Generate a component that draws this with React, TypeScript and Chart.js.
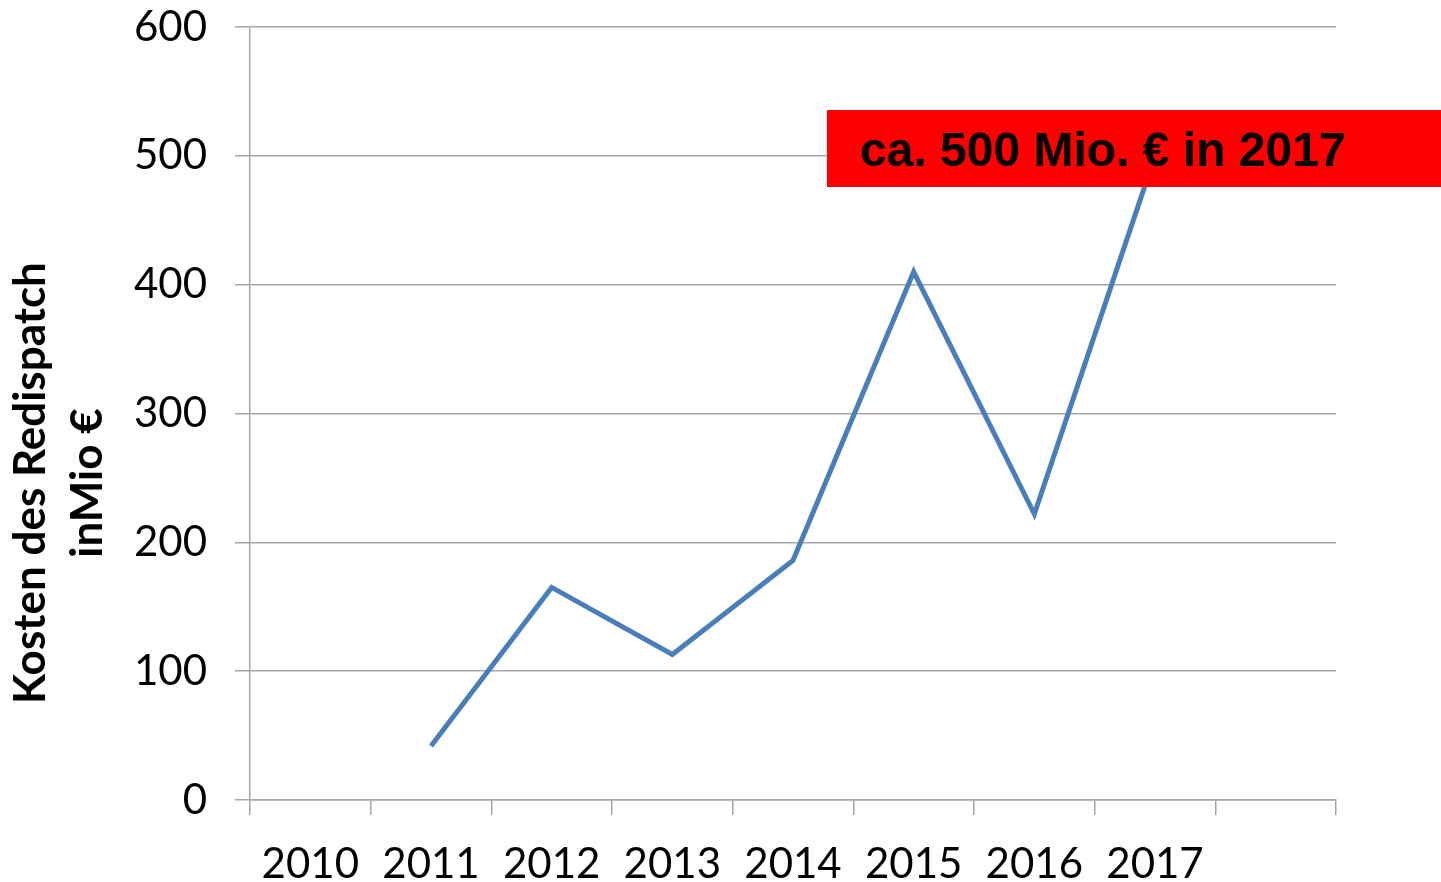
import React, { useEffect, useRef } from "react";
import { Chart, registerables } from "chart.js";

Chart.register(...registerables);

const years = ["2010", "2011", "2012", "2013", "2014", "2015", "2016", "2017", ""];
const costs = [null, 42, 165, 113, 186, 410, 222, 500, null];
const yTitle = ["Kosten des Redispatch", "inMio €"];
const note = "ca. 500 Mio. € in 2017";

const FONT = "Lato, 'Open Sans', sans-serif";
const GRID = "#a6a6a6";

const overlay = {
  id: "overlay",
  afterDraw(chart: any) {
    const ctx = chart.ctx;
    ctx.save();
    // axis title
    ctx.fillStyle = "#000";
    ctx.font = `bold 44px ${FONT}`;
    ctx.textAlign = "center";
    ctx.textBaseline = "middle";
    const cy = 483;
    ctx.translate(31, cy);
    ctx.rotate(-Math.PI / 2);
    ctx.fillText(yTitle[0], 0, 0);
    ctx.fillText(yTitle[1], 0, 57);
    ctx.restore();

    // annotation box
    ctx.save();
    ctx.fillStyle = "#ff0000";
    ctx.fillRect(827, 110, chart.width - 827, 77);
    ctx.fillStyle = "#000";
    ctx.font = "bold 48px 'Liberation Sans', Arial, sans-serif";
    ctx.textAlign = "left";
    ctx.textBaseline = "alphabetic";
    ctx.fillText(note, 860, 166);
    ctx.restore();
  },
};

export default function App() {
  const ref = useRef<HTMLCanvasElement>(null);
  useEffect(() => {
    const chart = new Chart(ref.current!, {
      type: "line",
      data: {
        labels: years,
        datasets: [
          {
            data: costs,
            borderColor: "#4a7ebb",
            borderWidth: 5,
            pointRadius: 0,
            tension: 0,
            fill: false,
          },
        ],
      },
      options: {
        animation: false,
        responsive: true,
        maintainAspectRatio: false,
        layout: { padding: { top: 27, right: 105, left: 0, bottom: 0 } },
        plugins: { legend: { display: false }, tooltip: { enabled: false } },
        scales: {
          x: {
            type: "category",
            offset: true,
            afterFit: (s: any) => {
              s.height = 82;
              s.paddingLeft = 0;
              s.paddingRight = 0;
            },
            grid: {
              offset: true,
              drawOnChartArea: false,
              drawTicks: true,
              tickLength: 15,
              color: GRID,
              lineWidth: 1.5,
            },
            border: { display: true, color: GRID, width: 1.5 },
            ticks: {
              color: "#000",
              font: { family: FONT, size: 42 },
              padding: 24,
              maxRotation: 0,
              autoSkip: false,
            },
          },
          y: {
            min: 0,
            max: 600,
            afterFit: (s: any) => {
              s.width = 250;
              s.paddingTop = 0;
              s.paddingBottom = 0;
            },
            grid: {
              color: GRID,
              lineWidth: 1.5,
              drawTicks: true,
              tickLength: 15,
            },
            border: { display: true, color: GRID, width: 1.5 },
            ticks: {
              stepSize: 100,
              color: "#000",
              font: { family: FONT, size: 42 },
              padding: 28,
            },
          },
        },
      },
      plugins: [overlay],
    });
    return () => chart.destroy();
  }, []);
  return (
    <div style={{ position: "fixed", left: 0, top: 0, width: 1441, height: 882, background: "#fff" }}>
      <canvas ref={ref} />
    </div>
  );
}
